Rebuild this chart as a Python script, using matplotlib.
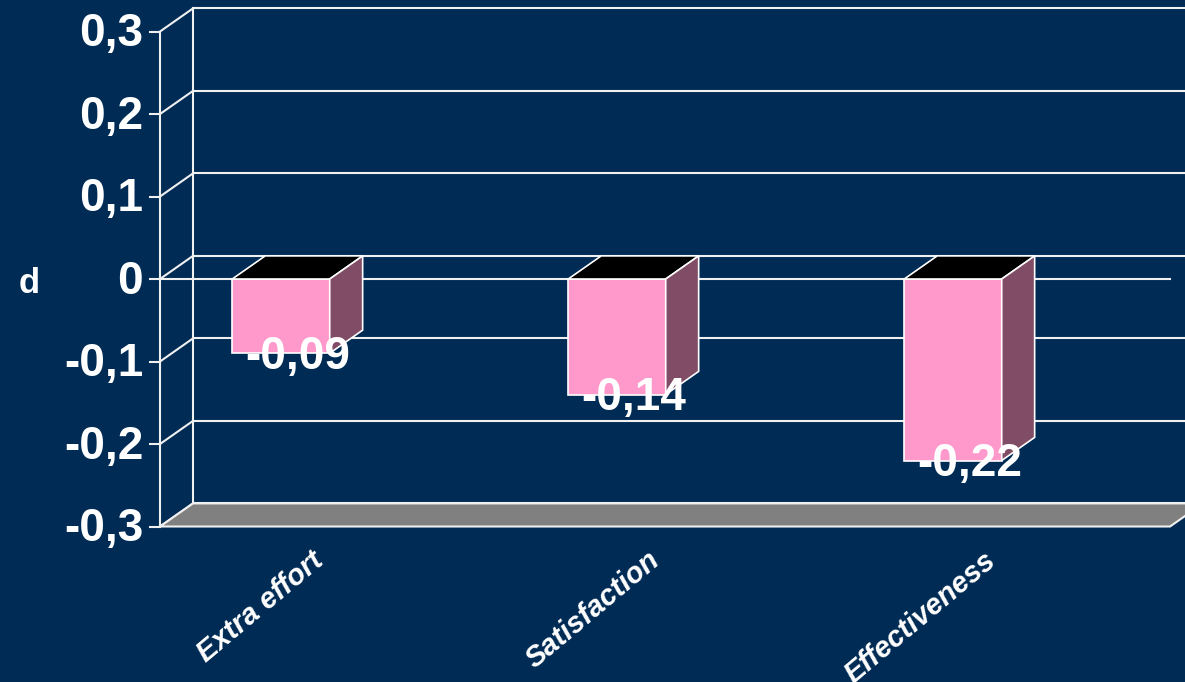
import numpy as np
import matplotlib.pyplot as plt
from matplotlib.patches import Polygon

# data
categories = ["Extra effort", "Satisfaction", "Effectiveness"]
values = [-0.09, -0.14, -0.22]
value_labels = ["-0,09", "-0,14", "-0,22"]
yticks = [-0.3, -0.2, -0.1, 0.0, 0.1, 0.2, 0.3]
ytick_labels = ["-0,3", "-0,2", "-0,1", "0", "0,1", "0,2", "0,3"]

plt.rcParams["font.family"] = ["Liberation Sans", "DejaVu Sans"]
plt.rcParams["font.weight"] = "bold"

bg = "#002B55"
pink = "#FF99CC"
side = "#804C66"
grid = "#F0F0F0"

fig = plt.figure(figsize=(11.85, 6.82), dpi=100)
fig.patch.set_facecolor(bg)
ax = fig.add_axes([0, 0, 1, 1])
ax.set_facecolor(bg)
ax.axis("off")

# scale: 336 px per category, 825 px per unit of d
ax.set_xlim(-281 / 336, (1185 - 281) / 336)
ax.set_ylim(-(682 - 279) / 825, 279 / 825)

# 3d depth offset (data units)
dx, dy = 0.098, 0.028
xl, xr = -0.36, 2.646
lo, hi = yticks[0], yticks[-1]
lw = 1.5

# back wall grid + left wall
for v in yticks:
    ax.plot([xl + dx, xr + dx + 0.2], [v + dy, v + dy], color=grid, lw=lw, zorder=1)
    ax.plot([xl, xl + dx], [v, v + dy], color=grid, lw=lw, zorder=1)
    ax.plot([xl - 0.03, xl], [v, v], color=grid, lw=lw, zorder=1)
ax.plot([xl, xl], [lo, hi], color=grid, lw=lw, zorder=1)
ax.plot([xl + dx, xl + dx], [lo + dy, hi + dy], color=grid, lw=lw, zorder=1)

# floor
floor = Polygon([(xl, lo), (xr, lo), (xr + dx, lo + dy), (xl + dx, lo + dy)],
                closed=True, facecolor="#808080", edgecolor=grid, lw=lw, zorder=2)
ax.add_patch(floor)

# zero line on front plane
ax.plot([xl, xr], [0, 0], color=grid, lw=lw, zorder=2)

# bars
w = 0.29
for i, v in enumerate(values):
    x0, x1 = i - w / 2, i + w / 2
    front = Polygon([(x0, 0), (x1, 0), (x1, v), (x0, v)], closed=True,
                    facecolor=pink, edgecolor="white", lw=1.2, zorder=3)
    top = Polygon([(x0, 0), (x1, 0), (x1 + dx, dy), (x0 + dx, dy)], closed=True,
                  facecolor="black", edgecolor="white", lw=1.2, zorder=3)
    sd = Polygon([(x1, 0), (x1 + dx, dy), (x1 + dx, v + dy), (x1, v)], closed=True,
                 facecolor=side, edgecolor="white", lw=1.2, zorder=3)
    for p in (front, top, sd):
        ax.add_patch(p)
    ax.text(i + dx / 2, v - 0.019, value_labels[i], color="white", fontsize=33,
            fontweight="bold", ha="center", va="baseline", zorder=5)
    ax.text(i + 0.09, -0.324, categories[i], color="white", fontsize=21,
            fontweight="bold", style="italic", ha="right", va="top",
            rotation=40, rotation_mode="anchor", zorder=5)

# y tick labels
for v, lab in zip(yticks, ytick_labels):
    ax.text(-0.41, v - 0.018, lab, color="white", fontsize=33, fontweight="bold",
            ha="right", va="baseline")

ax.text(-0.75, -0.017, "d", color="white", fontsize=25, fontweight="bold",
        ha="center", va="baseline")

fig.savefig("out.png", dpi=100, facecolor=bg)
